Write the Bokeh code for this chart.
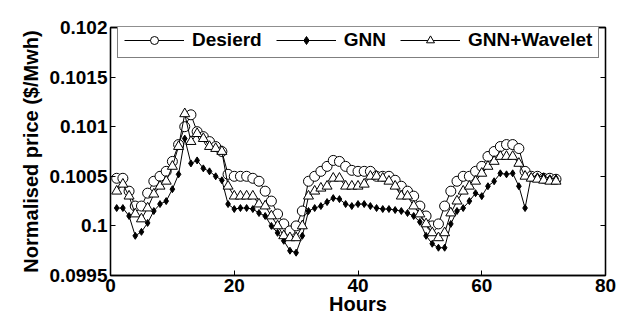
from bokeh.plotting import figure
from bokeh.models import LinearAxis, Range1d, FixedTicker, Legend, LegendItem
from bokeh.embed import file_html
from bokeh.resources import INLINE

hours = list(range(1, 73))

desired = [0.10048, 0.10048, 0.10035, 0.10020, 0.10020, 0.10033, 0.10045, 0.10050, 0.10055, 0.10065,
           0.10082, 0.10100, 0.10112, 0.10095, 0.10090, 0.10085, 0.10080, 0.10075, 0.10052, 0.10050,
           0.10050, 0.10050, 0.10048, 0.10045, 0.10035, 0.10025, 0.10012, 0.10002, 0.09995, 0.10000,
           0.10015, 0.10045, 0.10050, 0.10055, 0.10060, 0.10066, 0.10065, 0.10060, 0.10056, 0.10055,
           0.10055, 0.10055, 0.10050, 0.10050, 0.10050, 0.10046, 0.10040, 0.10035, 0.10030, 0.10020,
           0.10010, 0.10000, 0.10002, 0.10020, 0.10035, 0.10045, 0.10050, 0.10050, 0.10055, 0.10060,
           0.10070, 0.10075, 0.10080, 0.10082, 0.10082, 0.10078, 0.10055, 0.10050, 0.10050, 0.10048,
           0.10048, 0.10047]

gnn = [0.10018, 0.10018, 0.10010, 0.09990, 0.09994, 0.10003, 0.10015, 0.10022, 0.10025, 0.10037,
       0.10052, 0.10088, 0.10063, 0.10066, 0.10058, 0.10055, 0.10050, 0.10046, 0.10022, 0.10017,
       0.10018, 0.10018, 0.10017, 0.10013, 0.10010, 0.10000, 0.09993, 0.09985, 0.09975, 0.09973,
       0.09990, 0.10015, 0.10018, 0.10020, 0.10024, 0.10028, 0.10027, 0.10022, 0.10020, 0.10022,
       0.10022, 0.10020, 0.10018, 0.10017, 0.10017, 0.10016, 0.10015, 0.10013, 0.10010, 0.10004,
       0.09990, 0.09982, 0.09978, 0.09978, 0.10002, 0.10015, 0.10018, 0.10025, 0.10033, 0.10030,
       0.10040, 0.10045, 0.10053, 0.10052, 0.10053, 0.10040, 0.10018, 0.10050, 0.10050, 0.10050,
       0.10048, 0.10048]

wavelet = [0.10035, 0.10042, 0.10030, 0.10012, 0.10007, 0.10018, 0.10032, 0.10040, 0.10045, 0.10060,
           0.10080, 0.10113, 0.10085, 0.10093, 0.10088, 0.10080, 0.10078, 0.10075, 0.10040, 0.10030,
           0.10030, 0.10030, 0.10030, 0.10022, 0.10020, 0.10010, 0.10000, 0.09990, 0.09988, 0.09988,
           0.10000, 0.10030, 0.10035, 0.10038, 0.10040, 0.10048, 0.10048, 0.10040, 0.10040, 0.10040,
           0.10042, 0.10050, 0.10050, 0.10048, 0.10045, 0.10040, 0.10030, 0.10030, 0.10020, 0.10012,
           0.10002, 0.09993, 0.09988, 0.09993, 0.10013, 0.10025, 0.10035, 0.10040, 0.10045, 0.10053,
           0.10060, 0.10065, 0.10070, 0.10070, 0.10070, 0.10063, 0.10050, 0.10048, 0.10047, 0.10046,
           0.10045, 0.10045]

x_ticks = [0, 20, 40, 60, 80]
y_ticks = [0.0995, 0.1, 0.1005, 0.101, 0.1015, 0.102]
y_tick_labels = {0.0995: "0.0995", 0.1: "0.1", 0.1005: "0.1005", 0.101: "0.101", 0.1015: "0.1015", 0.102: "0.102"}

FONT = "Liberation Sans"

p = figure(width=617, height=326, output_backend="svg", toolbar_location=None,
           x_range=Range1d(0, 80), y_range=Range1d(0.0995, 0.102),
           min_border_left=110, min_border_right=12, min_border_top=27, min_border_bottom=51)
p.xgrid.visible = False
p.ygrid.visible = False
p.outline_line_color = "black"
p.outline_line_width = 1.3
p.background_fill_color = "white"
p.border_fill_color = "white"

def style_axis(ax, labels=True):
    ax.major_tick_in = 5
    ax.major_tick_out = 0
    ax.minor_tick_in = 0
    ax.minor_tick_out = 0
    ax.axis_line_color = "black"
    ax.axis_line_width = 1.3
    ax.major_tick_line_color = "black"
    ax.major_label_text_font = FONT
    ax.major_label_text_font_style = "bold"
    ax.major_label_text_font_size = "19px"
    ax.major_label_text_color = "black" if labels else None
    ax.major_label_standoff = 3

p.xaxis.ticker = FixedTicker(ticks=x_ticks)
p.yaxis.ticker = FixedTicker(ticks=y_ticks)
p.yaxis.major_label_overrides = y_tick_labels
for ax in p.xaxis + p.yaxis:
    style_axis(ax)
p.xaxis.axis_label = "Hours"
p.yaxis.axis_label = "Normalised price ($/Mwh)"
for ax in p.xaxis + p.yaxis:
    ax.axis_label_text_font = FONT
    ax.axis_label_text_font_style = "bold"
    ax.axis_label_text_font_size = "20px"
    ax.axis_label_text_color = "black"
p.xaxis.axis_label_standoff = -2
p.yaxis.axis_label_standoff = 4

ax_r = LinearAxis(ticker=FixedTicker(ticks=y_ticks))
style_axis(ax_r, labels=False)
p.add_layout(ax_r, "right")
ax_t = LinearAxis(ticker=FixedTicker(ticks=x_ticks))
style_axis(ax_t, labels=False)
p.add_layout(ax_t, "above")

l1 = p.line(hours, desired, line_color="black", line_width=1)
s1 = p.scatter(hours, desired, marker="circle", size=10, fill_color="white", line_color="black", line_width=1)
l2 = p.line(hours, gnn, line_color="black", line_width=1)
s2 = p.scatter(hours, gnn, marker="diamond", size=7, fill_color="black", line_color="black")
l3 = p.line(hours, wavelet, line_color="black", line_width=1)
s3 = p.scatter(hours, wavelet, marker="triangle", size=10, fill_color="white", line_color="black", line_width=1)

legend = Legend(items=[LegendItem(label="Desierd", renderers=[l1, s1]),
                       LegendItem(label="GNN", renderers=[l2, s2]),
                       LegendItem(label="GNN+Wavelet", renderers=[l3, s3])],
                orientation="horizontal", location=(7, 217))
legend.glyph_width = 60
legend.glyph_height = 20
legend.label_text_font = FONT
legend.label_text_font_style = "bold"
legend.label_text_font_size = "19px"
legend.label_text_color = "black"
legend.spacing = 14
legend.padding = 6
legend.margin = 0
legend.border_line_color = "black"
legend.border_line_width = 1.3
legend.background_fill_alpha = 1.0
legend.label_standoff = 8
p.add_layout(legend, "center")

open("out.html", "w").write(file_html(p, INLINE))
